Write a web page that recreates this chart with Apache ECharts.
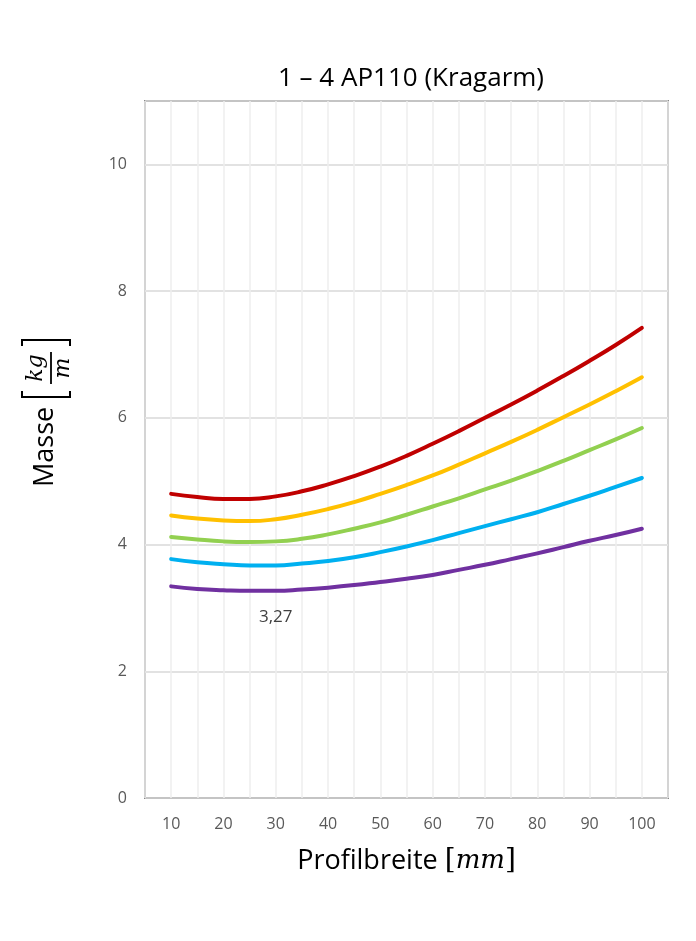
<!DOCTYPE html>
<html>
<head>
<meta charset="utf-8">
<script src="https://cdn.jsdelivr.net/npm/echarts@6/dist/echarts.min.js"></script>
<style>
  html, body { margin: 0; padding: 0; background: #fff; }
  #chart { width: 696px; height: 941px; }
</style>
</head>
<body>
<div id="chart"></div>
<script>
  // Profilbreite in mm
  var breite = [10, 15, 20, 25, 30, 35, 40, 45, 50, 55, 60, 65, 70, 75, 80, 85, 90, 95, 100]
  // Masse in kg/m
  var rot    = [4.80, 4.75, 4.72, 4.72, 4.76, 4.84, 4.95, 5.08, 5.23, 5.40, 5.59, 5.79, 6.00, 6.21, 6.43, 6.66, 6.90, 7.15, 7.42]
  var gelb   = [4.46, 4.41, 4.38, 4.37, 4.40, 4.47, 4.56, 4.67, 4.80, 4.94, 5.09, 5.26, 5.44, 5.62, 5.81, 6.01, 6.21, 6.42, 6.64]
  var gruen  = [4.12, 4.08, 4.05, 4.04, 4.05, 4.09, 4.16, 4.25, 4.35, 4.47, 4.60, 4.73, 4.87, 5.01, 5.16, 5.32, 5.49, 5.66, 5.84]
  var blau   = [3.77, 3.72, 3.69, 3.67, 3.67, 3.70, 3.74, 3.80, 3.88, 3.97, 4.07, 4.18, 4.29, 4.40, 4.51, 4.64, 4.77, 4.91, 5.05]
  var lila   = [3.34, 3.30, 3.28, 3.27, 3.27, 3.29, 3.32, 3.36, 3.41, 3.46, 3.52, 3.60, 3.68, 3.77, 3.86, 3.96, 4.06, 4.15, 4.25]
  var labelIndex = 4 // Beschriftung "3,27" unter dem Minimum

  var font = '"Open Sans", sans-serif'
  var serif = '"DejaVu Serif", serif'
  var chart = echarts.init(document.getElementById('chart'))

  function pairs(arr) {
    return arr.map(function (v, i) { return [breite[i], v] })
  }

  function linie(name, arr, color) {
    return {
      name: name,
      type: 'line',
      smooth: 0.5,
      symbol: 'none',
      lineStyle: { color: color, width: 4, cap: 'round' },
      data: pairs(arr),
      z: 3
    }
  }

  var lilaData = pairs(lila)
  lilaData[labelIndex] = {
    value: lilaData[labelIndex],
    symbol: 'circle',
    symbolSize: 1,
    itemStyle: { color: 'rgba(0,0,0,0)' },
    label: {
      show: true,
      position: 'bottom',
      distance: 17,
      color: '#404040',
      fontFamily: font,
      fontSize: 17,
      formatter: function (p) { return p.value[1].toFixed(2).replace('.', ',') }
    }
  }
  var lilaSerie = linie('Reihe 5', lila, '#7030A0')
  lilaSerie.symbol = 'circle'
  lilaSerie.symbolSize = 0
  lilaSerie.showAllSymbol = true
  lilaSerie.itemStyle = { color: 'rgba(0,0,0,0)' }
  lilaSerie.data = lilaData

  var bracket = function (pts) {
    return { type: 'polyline', shape: { points: pts }, style: { stroke: '#000', lineWidth: 2, fill: null } }
  }

  chart.setOption({
    animation: false,
    title: {
      text: '1 – 4 AP110 (Kragarm)',
      left: 406,
      textAlign: 'center',
      top: 61,
      textStyle: { fontFamily: font, fontSize: 26, fontWeight: 'normal', color: '#000' }
    },
    grid: {
      left: 145, right: 28, top: 101, bottom: 143,
      show: true, borderColor: '#898989', borderWidth: 2
    },
    xAxis: {
      type: 'value',
      min: 5, max: 105, interval: 5,
      axisLine: { show: false },
      axisTick: { show: false },
      axisLabel: {
        margin: 18, color: '#595959', fontFamily: font, fontSize: 16,
        formatter: function (v) { return (v % 10 === 0) ? v : '' }
      },
      splitLine: { lineStyle: { color: '#eeeeee', width: 1.5 } },
      name: '{n|Profilbreite }{b|[}{i|mm}{b|]}',
      nameLocation: 'middle',
      nameGap: 49,
      nameTextStyle: {
        rich: {
          n: { fontFamily: font, fontSize: 27, color: '#000' },
          b: { fontFamily: serif, fontSize: 28, color: '#000' },
          i: { fontFamily: serif, fontStyle: 'italic', fontSize: 26, color: '#000' }
        }
      }
    },
    yAxis: {
      type: 'value',
      min: 0, max: 11, interval: 2,
      axisLine: { show: false },
      axisTick: { show: false },
      axisLabel: {
        margin: 18, color: '#595959', fontFamily: font, fontSize: 16,
        formatter: function (v) { return v > 10 ? '' : v }
      },
      splitLine: { lineStyle: { color: '#d9d9d9', width: 1.5 } }
    },
    graphic: [{
      type: 'group',
      x: 45, y: 487,
      rotation: Math.PI / 2,
      children: [
        { type: 'text', x: 0, y: 0, style: { text: 'Masse', fontFamily: font, fontSize: 27, fill: '#000', verticalAlign: 'middle', align: 'left' } },
        bracket([[96, -23], [90, -23], [90, 25], [96, 25]]),
        { type: 'text', x: 119, y: -9, style: { text: 'kg', fontFamily: serif, fontStyle: 'italic', fontSize: 22, fill: '#000', verticalAlign: 'middle', align: 'center' } },
        { type: 'line', shape: { x1: 103, y1: 6, x2: 135, y2: 6 }, style: { stroke: '#000', lineWidth: 1.8 } },
        { type: 'text', x: 119, y: 18, style: { text: 'm', fontFamily: serif, fontStyle: 'italic', fontSize: 22, fill: '#000', verticalAlign: 'middle', align: 'center' } },
        bracket([[141, -23], [147, -23], [147, 25], [141, 25]])
      ]
    }],
    series: [
      linie('Reihe 1', rot, '#C00000'),
      linie('Reihe 2', gelb, '#FFC000'),
      linie('Reihe 3', gruen, '#92D050'),
      linie('Reihe 4', blau, '#00B0F0'),
      lilaSerie
    ]
  })
</script>
</body>
</html>
